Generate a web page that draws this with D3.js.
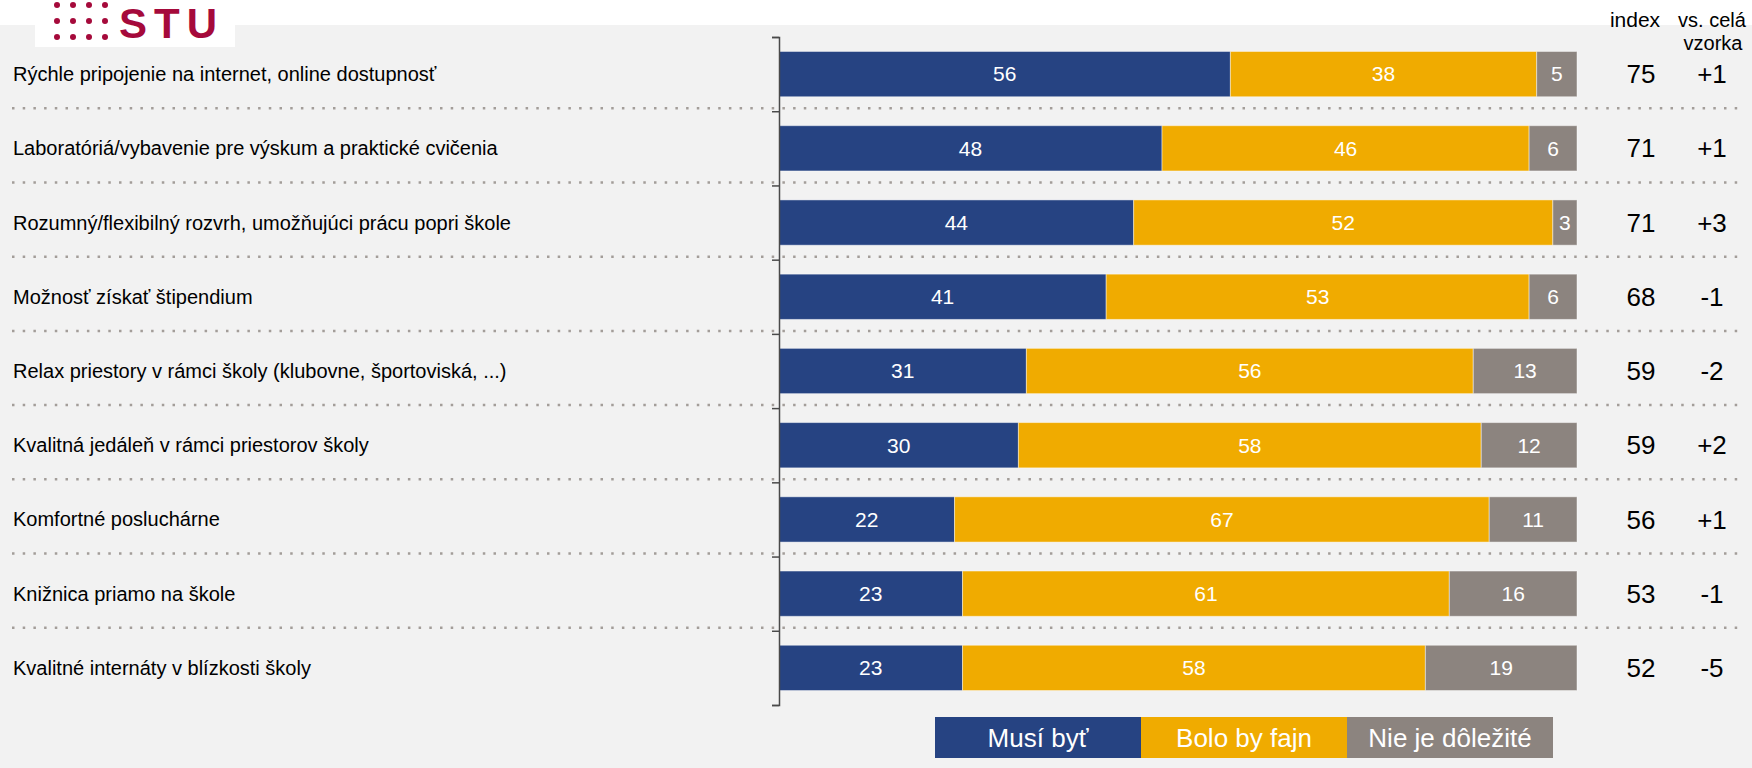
<!DOCTYPE html>
<html>
<head>
<meta charset="utf-8">
<script src="https://cdn.jsdelivr.net/npm/d3@7"></script>
<style>
  body { margin: 0; background: #fff; }
  svg { display: block; font-family: "Liberation Sans", Arial, sans-serif; }
</style>
</head>
<body>
<div id="chart"></div>
<script>
// data
var categories = [
  'Rýchle pripojenie na internet, online dostupnosť',
  'Laboratóriá/vybavenie pre výskum a praktické cvičenia',
  'Rozumný/flexibilný rozvrh, umožňujúci prácu popri škole',
  'Možnosť získať štipendium',
  'Relax priestory v rámci školy (klubovne, športoviská, ...)',
  'Kvalitná jedáleň v rámci priestorov školy',
  'Komfortné posluchárne',
  'Knižnica priamo na škole',
  'Kvalitné internáty v blízkosti školy'
];
var seriesNames = ['Musí byť', 'Bolo by fajn', 'Nie je dôležité'];
var mustHave     = [56, 48, 44, 41, 31, 30, 22, 23, 23];
var niceToHave   = [38, 46, 52, 53, 56, 58, 67, 61, 58];
var notImportant = [5, 6, 3, 6, 13, 12, 11, 16, 19];
var indexValues  = [75, 71, 71, 68, 59, 59, 56, 53, 52];
var deltaValues  = ['+1', '+1', '+3', '-1', '-2', '+2', '+1', '-1', '-5'];

var colors = ['#264382', '#f0ab00', '#8c847f'];

var W = 1752, H = 768;

var rows = categories.map(function(c, i) {
  var r = { cat: c };
  r[seriesNames[0]] = mustHave[i];
  r[seriesNames[1]] = niceToHave[i];
  r[seriesNames[2]] = notImportant[i];
  return r;
});

var svg = d3.select('#chart').append('svg')
  .attr('width', W)
  .attr('height', H);

// background
svg.append('rect').attr('x', 0).attr('y', 25).attr('width', W).attr('height', H - 25).attr('fill', '#f2f2f2');

// logo
var logo = svg.append('g');
logo.append('rect').attr('x', 35).attr('y', 0).attr('width', 200).attr('height', 47).attr('fill', '#fff');
[57, 73, 89, 105].forEach(function(cx) {
  [5, 21, 37].forEach(function(cy) {
    logo.append('circle').attr('cx', cx).attr('cy', cy).attr('r', 3).attr('fill', '#a50a3b');
  });
});
logo.append('text')
  .attr('x', 119).attr('y', 38)
  .attr('font-size', 42).attr('font-weight', 'bold')
  .attr('letter-spacing', 7)
  .attr('fill', '#a50a3b')
  .text('STU');

// scales
var y = d3.scaleBand()
  .domain(categories)
  .range([37, 705])
  .paddingInner(0.39)
  .paddingOuter(0.195);

var x = d3.scaleLinear()
  .domain([0, 1])
  .range([779, 1577]);

var stack = d3.stack()
  .keys(seriesNames)
  .offset(d3.stackOffsetExpand);
var series = stack(rows);

// dotted separators between rows
var step = y.step();
var sepY = d3.range(1, categories.length).map(function(k) { return 37 + k * step - 3; });
svg.append('g').selectAll('line')
  .data(sepY)
  .enter().append('line')
    .attr('x1', 12).attr('x2', 1742)
    .attr('y1', function(d) { return d; })
    .attr('y2', function(d) { return d; })
    .attr('stroke', '#a39d99')
    .attr('stroke-width', 2.5)
    .attr('stroke-dasharray', '2.5,8.2');

// bars
var layers = svg.append('g').selectAll('g')
  .data(series)
  .enter().append('g')
    .attr('fill', function(d, i) { return colors[i]; });

layers.selectAll('rect')
  .data(function(d) { return d; })
  .enter().append('rect')
    .attr('x', function(d) { return x(d[0]); })
    .attr('y', function(d) { return y(d.data.cat); })
    .attr('width', function(d) { return x(d[1]) - x(d[0]); })
    .attr('height', y.bandwidth())
    .attr('stroke', 'rgba(255,255,255,0.45)')
    .attr('stroke-width', 1);

layers.each(function(s) {
  d3.select(this).selectAll('text')
    .data(s)
    .enter().append('text')
      .attr('x', function(d) { return (x(d[0]) + x(d[1])) / 2; })
      .attr('y', function(d) { return y(d.data.cat) + y.bandwidth() / 2; })
      .attr('dy', '0.35em')
      .attr('text-anchor', 'middle')
      .attr('font-size', 21)
      .attr('fill', '#fff')
      .text(function(d) { return d.data[s.key]; });
});

// axis
var yAxisScale = d3.scaleLinear().domain([0, categories.length]).range([37, 705]);
var axis = svg.append('g')
  .attr('transform', 'translate(779,0)')
  .call(d3.axisLeft(yAxisScale).ticks(categories.length).tickSize(7).tickSizeOuter(7).tickFormat(''));
axis.selectAll('path, line').attr('stroke', '#4a4a4a').attr('stroke-width', 1.5);

// category labels
svg.append('g').selectAll('text')
  .data(categories)
  .enter().append('text')
    .attr('x', 13)
    .attr('y', function(d) { return y(d) + y.bandwidth() / 2; })
    .attr('dy', '0.35em')
    .attr('font-size', 20)
    .attr('fill', '#000')
    .text(function(d) { return d; });

// index + delta columns
svg.append('g').selectAll('text')
  .data(indexValues)
  .enter().append('text')
    .attr('x', 1641)
    .attr('y', function(d, i) { return y(categories[i]) + y.bandwidth() / 2; })
    .attr('dy', '0.35em')
    .attr('text-anchor', 'middle')
    .attr('font-size', 26)
    .text(function(d) { return d; });

svg.append('g').selectAll('text')
  .data(deltaValues)
  .enter().append('text')
    .attr('x', 1712)
    .attr('y', function(d, i) { return y(categories[i]) + y.bandwidth() / 2; })
    .attr('dy', '0.35em')
    .attr('text-anchor', 'middle')
    .attr('font-size', 26)
    .text(function(d) { return d; });

// column headers
svg.append('text').attr('x', 1635).attr('y', 27).attr('text-anchor', 'middle').attr('font-size', 21).text('index');
svg.append('text').attr('x', 1712).attr('y', 27).attr('text-anchor', 'middle').attr('font-size', 20).text('vs. celá');
svg.append('text').attr('x', 1713).attr('y', 50).attr('text-anchor', 'middle').attr('font-size', 20).text('vzorka');

// legend
var lx = d3.scaleBand().domain(seriesNames).range([935, 1553]);
var legend = svg.append('g').attr('class', 'legend');
legend.selectAll('rect')
  .data(seriesNames)
  .enter().append('rect')
    .attr('x', function(d) { return lx(d); })
    .attr('y', 717)
    .attr('width', lx.bandwidth())
    .attr('height', 41)
    .attr('fill', function(d, i) { return colors[i]; });
legend.selectAll('text')
  .data(seriesNames)
  .enter().append('text')
    .attr('x', function(d) { return lx(d) + lx.bandwidth() / 2; })
    .attr('y', 737.5)
    .attr('dy', '0.35em')
    .attr('text-anchor', 'middle')
    .attr('font-size', 26)
    .attr('fill', '#fff')
    .text(function(d) { return d; });
</script>
</body>
</html>
